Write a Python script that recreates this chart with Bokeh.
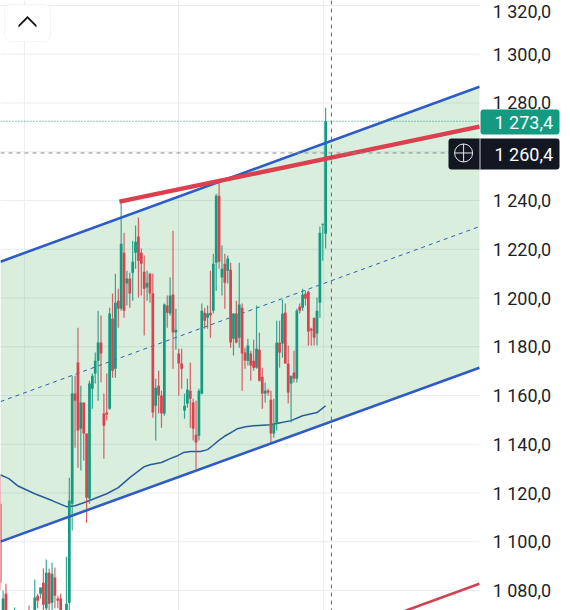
from bokeh.embed import file_html
from bokeh.resources import INLINE
from bokeh.plotting import figure
from bokeh.models import (ColumnDataSource, FixedTicker, Range1d, Span, Label,
                          BoxAnnotation, PolyAnnotation)

# ---------- data ----------
bar_index = [0,1,2,5,10,12,13,14,15,16,17,18,19,20,21,23,24,25,26,27,28,29,30,31,32,33,34,35,36,37,38,39,40,41,42,43,44,45,46,47,48,49,50,51,52,53,54,55,56,57,58,59,60,61,62,63,64,65,66,67,68,69,70,71,72,73,74,75,76,77,78,79,80,81,82,83,84,85,86,87,88,89,90,91,92,93,94,95,96,97,98,99,100,101,102,103,104,105,106,107,108,109,110,111,112,113]
bar_high = [1127.1,1080,1082.8,1073,1073.8,1084.5,1078.7,1081.2,1089,1092.7,1089,1091.4,1089.4,1077.9,1078.7,1093.9,1126.3,1168.1,1168.1,1187.8,1164,1157.1,1144.4,1166.1,1169,1177.6,1194.8,1192.8,1160.8,1169,1196,1201.8,1210,1203.8,1239.9,1226.8,1211.2,1210.4,1223.5,1229.7,1233,1220.3,1217.4,1211.2,1210.4,1210,1166.9,1170.2,1162,1197.7,1201,1208.4,1227.6,1195.6,1179.2,1179.2,1160.8,1166.9,1173.5,1158.7,1157.9,1162.8,1197.7,1196,1196.9,1211.2,1218.2,1242.8,1248.2,1221.5,1218.2,1217.4,1214.5,1193.6,1198.9,1214.5,1197.7,1179.6,1183.3,1178.4,1182.9,1196.9,1185.8,1171.4,1165.3,1162.8,1162,1158.7,1190.7,1190.7,1199.3,1197.7,1180.5,1168.1,1178.4,1195.6,1197.7,1203.8,1203,1203,1187.8,1191.9,1200.2,1229.3,1230.5,1278.1]
bar_top = [1115.6,1076.7,1078.7,1071.3,1071.3,1077.1,1077.9,1081.2,1083.2,1087.3,1087.3,1086.9,1085.3,1076.7,1076.7,1074.6,1116.9,1160.8,1160.8,1173.5,1157.1,1157.1,1144.4,1164.9,1168.1,1174.3,1181.7,1181.7,1152.6,1153,1193.6,1191.5,1198.1,1198.9,1222.3,1218.6,1208,1208,1214.9,1223.1,1225.2,1218.6,1210.8,1206.3,1210,1201.8,1163.2,1164,1160,1197.3,1196.9,1201,1201.4,1187,1177.2,1173.1,1155.8,1162.4,1162,1157.1,1143.9,1162,1194.8,1194,1193.6,1194,1214.1,1242,1242,1212,1214.1,1216.2,1211.6,1193.6,1193.6,1197.3,1196,1177.6,1180.5,1177.2,1174.3,1179.2,1178.8,1167.7,1162,1162,1158.3,1148.5,1181.7,1181.7,1193.6,1194,1173.1,1168.1,1169.4,1194.8,1196.5,1201.4,1201.8,1202.6,1187.4,1191.9,1194.8,1226.8,1230.5,1272.5]
bar_bottom = [1083.2,1070.9,1070.9,1067.6,1067.6,1070.9,1075.8,1078.7,1074.2,1072.6,1074.6,1075,1077.9,1075.8,1070.9,1070.9,1075,1115.6,1157.9,1145.6,1146.4,1144.4,1118.1,1117.7,1162.8,1169,1174.3,1177.2,1147.6,1152.2,1154.6,1170.2,1171,1195.6,1195.6,1194.8,1205.9,1201.8,1210.4,1218.6,1215.3,1214.1,1203.8,1204.3,1201.8,1153,1155.8,1160,1152.6,1152.6,1194,1193.6,1185.8,1185.8,1173.1,1171,1153.8,1156.7,1158.7,1146.4,1140.7,1143.5,1160.8,1190.7,1191.9,1192.8,1194.8,1214.5,1214.9,1208.4,1206.3,1211.2,1181.7,1183.3,1181.7,1183.7,1177.2,1174.3,1174.3,1172.3,1171.4,1171.4,1166.1,1160.8,1160.8,1161.2,1144.4,1144.4,1148.5,1177.6,1181.3,1173.1,1161.2,1164.9,1166.9,1166.9,1194.8,1196,1199.7,1186.2,1186.6,1183.7,1185.4,1198.1,1230.1,1226.4]
bar_low = [1080,1069.7,1069.7,1065.6,1065.6,1068.5,1072.6,1076.7,1070.9,1070.9,1070.9,1070.9,1072.6,1072.6,1069.7,1069.7,1070.9,1104.6,1138.6,1130.4,1129.2,1133.3,1107.8,1115.6,1154.6,1164.9,1157.9,1165.3,1134.1,1149.7,1154.2,1167.3,1167.3,1187.8,1194.8,1191.9,1196.9,1196,1198.9,1212,1200.2,1201,1184.6,1198.9,1198.1,1150.9,1141.5,1152.6,1146.8,1151.7,1187.8,1192.8,1171,1178.8,1160,1162.8,1150.5,1155,1146.8,1141.5,1130,1141.5,1160.4,1187.4,1187.4,1183.7,1193.6,1203,1212,1201,1195.6,1205.9,1179.6,1176.4,1181.3,1179.6,1162,1171,1172.3,1166.1,1170.2,1171,1165.7,1154.6,1157.1,1160,1140.7,1142.7,1145.6,1171.4,1175.5,1173.1,1156.7,1148.9,1165.3,1165.3,1193.6,1194.8,1196.9,1180.5,1180.5,1180.5,1180.5,1191.9,1215.3,1220.3]
bar_is_up = [0,1,0,1,0,1,0,1,0,1,0,1,0,0,0,1,1,1,0,0,1,0,0,1,1,1,1,0,0,0,1,0,1,0,1,0,1,0,1,1,0,0,0,1,0,0,1,0,0,1,0,1,0,1,0,0,1,1,0,0,0,1,1,0,1,0,1,1,0,1,0,1,0,1,0,1,0,0,1,0,0,1,0,0,1,0,0,1,1,0,1,0,0,1,0,1,0,1,0,0,0,0,1,1,1,1]

ma_x = [0,3,6,12,18,23,26,29,31,37,41,45,50,52,56,59,61.6,63.6,66.1,69.5,72,73.7,75.8,78.2,80.7,82.4,85.2,88,94,96,101,105,110,113]
ma_y = [1127.5,1125.9,1123.0,1119.7,1116.9,1114.4,1114.8,1116.0,1116.9,1119.7,1122.2,1126.3,1130.8,1131.6,1132.5,1134.1,1135.3,1136.6,1137,1137,1137.8,1139.4,1141.5,1143.5,1145.2,1146.4,1147.2,1147.6,1148.0,1148.5,1149.7,1151.7,1153.0,1155.8]

channel_x = [0.1, 166.4]
channel_upper = [1214.9, 1286.7]
channel_mid = [1157.5, 1229.3]
channel_lower = [1100.05, 1171.4]
trend_x = [41.4, 166.4]
trend_y = [1239.5, 1270.3]
lower_trend_x = [140.7, 166.4]
lower_trend_y = [1071.7, 1082.8]

y_ticks = [1080,1100,1120,1140,1160,1180,1200,1220,1240,1280,1300,1320]
y_tick_labels = ["1 080,0","1 100,0","1 120,0","1 140,0","1 160,0","1 180,0","1 200,0","1 220,0","1 240,0","1 280,0","1 300,0","1 320,0"]
grid_prices = y_ticks + [1260]
x_grid_at = [8.4, 61.9, 112.3]
last_price = 1272.5
last_label = "1 273,4"
cross_price = 1259.5
cross_label = "1 260,4"
cross_bar = 115
cross_icon_bar = 160.9
axis_at_bar = 194.8

GREEN, RED, BLUE = "#149a80", "#d9434f", "#2f5cc4"
W, H = 570, 610

p = figure(width=W, height=H, output_backend="svg", toolbar_location=None,
           x_range=Range1d(0.104, 198.02), y_range=Range1d(1071.8, 1322.05),
           x_axis_location=None, y_axis_location="left",
           min_border_left=0, min_border_top=0, min_border_bottom=0, min_border_right=0,
           outline_line_color=None, background_fill_color="white")

p.yaxis.fixed_location = axis_at_bar
p.yaxis.ticker = FixedTicker(ticks=y_ticks)
p.yaxis.major_label_overrides = dict(zip(y_ticks, y_tick_labels))
p.yaxis.axis_line_color = None
p.yaxis.major_tick_line_color = None
p.yaxis.minor_tick_line_color = None
p.yaxis.major_label_standoff = 4
p.yaxis.major_label_text_font = "Roboto"
p.yaxis.major_label_text_font_size = "18px"
p.yaxis.major_label_text_color = "#1c1f2a"

for g in p.grid:
    g.visible = False
for x in x_grid_at:
    p.add_layout(Span(location=x, dimension="height", line_color="#e9ecf1", line_width=1, level="underlay"))
p.segment(x0=[channel_x[0]] * len(grid_prices), y0=grid_prices,
          x1=[channel_x[1]] * len(grid_prices), y1=grid_prices, line_color="#e9ecf1", line_width=1)

p.varea(x=channel_x, y1=channel_lower, y2=channel_upper, fill_color="#43a857", fill_alpha=0.2)
p.line(channel_x, channel_mid, line_color="#2a62b8", line_width=1, line_dash=[4, 4])
p.line(ma_x, ma_y, line_color="#2b5a9e", line_width=1.5)

colors = [GREEN if u else RED for u in bar_is_up]
src = ColumnDataSource(dict(x=bar_index, h=bar_high, l=bar_low, t=bar_top, b=bar_bottom, c=colors))
p.segment("x", "h", "x", "l", source=src, line_color="c", line_width=1.2, line_alpha=0.85)
p.vbar(x="x", top="t", bottom="b", width=0.95, source=src, fill_color="c", line_color=None)

p.line(channel_x, channel_upper, line_color=BLUE, line_width=2.6)
p.line(channel_x, channel_lower, line_color=BLUE, line_width=2.6)
p.line(trend_x, trend_y, line_color="#dc3f4d", line_width=4.4)
p.line(lower_trend_x, lower_trend_y, line_color="#cf4452", line_width=2.6)

p.line(channel_x, [last_price, last_price], line_color="#149a80", line_width=1, line_dash=[1, 2])
p.line(channel_x, [cross_price, cross_price], line_color="#8b8e97", line_width=1, line_dash=[4, 4])
p.add_layout(Span(location=cross_bar, dimension="height", line_color="#666a75", line_width=1, line_dash=[4, 4]))

def sy(py):
    return H - py

def box(l, r, t, b, fill, **kw):
    p.add_layout(BoxAnnotation(left=l, right=r, top=sy(t), bottom=sy(b),
                               left_units="screen", right_units="screen", top_units="screen",
                               bottom_units="screen", fill_color=fill, fill_alpha=1,
                               level="annotation", **kw))

# price tags
box(480, 559, 109, 134, "#149a80", line_color=None, border_radius=3)
box(448, 559, 138, 169, "#131722", line_color=None, border_radius=3)
box(479, 480, 138, 169, "#c9ccd3", line_color=None)
p.add_layout(Label(x=494, y=sy(121.5), x_units="screen", y_units="screen", text=last_label,
                   text_color="white", text_font="Roboto", text_font_size="18px",
                   text_baseline="middle", level="overlay"))
p.add_layout(Label(x=494, y=sy(153.5), x_units="screen", y_units="screen", text=cross_label,
                   text_color="white", text_font="Roboto", text_font_size="18px",
                   text_baseline="middle", level="overlay"))
p.scatter([cross_icon_bar], [cross_price], marker="circle_cross", size=18, fill_color=None,
          line_color="#e8e8e8", line_width=1, level="overlay")

# collapse button
box(4, 50, 4, 41, "white", line_color="#dcdfe4", line_width=1, border_radius=6)
p.add_layout(PolyAnnotation(xs=[18, 27, 36, 36, 27, 18], ys=[sy(27), sy(18), sy(27), sy(24.5), sy(15.5), sy(24.5)],
                            xs_units="screen", ys_units="screen", fill_color="#111111", fill_alpha=1,
                            line_color=None, level="overlay"))

open("out.html", "w").write(file_html(p, INLINE))
